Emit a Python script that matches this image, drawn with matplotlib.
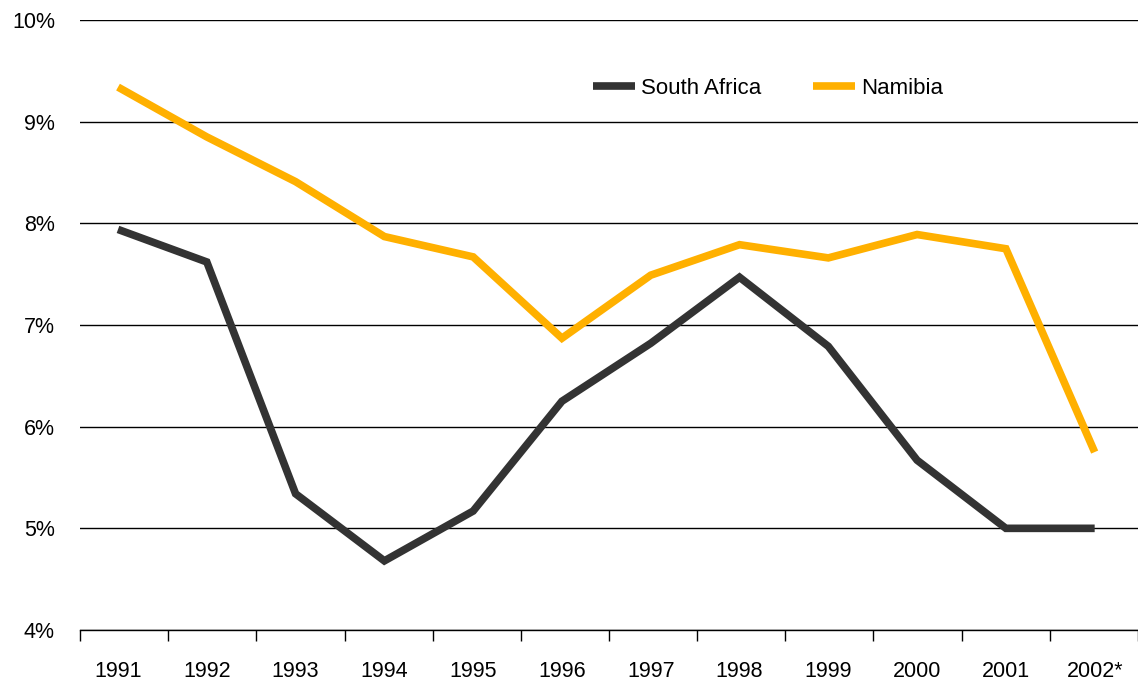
import matplotlib
matplotlib.use("Agg")
import matplotlib.pyplot as plt
import numpy as np

# data
years = ["1991", "1992", "1993", "1994", "1995", "1996",
         "1997", "1998", "1999", "2000", "2001", "2002*"]
south_africa = [7.94, 7.62, 5.34, 4.68, 5.17, 6.25, 6.82, 7.47, 6.79, 5.67, 5.00, 5.00]
namibia = [9.34, 8.85, 8.41, 7.87, 7.67, 6.87, 7.49, 7.79, 7.66, 7.89, 7.75, 5.75]

plt.rcParams['font.family'] = ['Liberation Sans', 'DejaVu Sans']

fig = plt.figure(figsize=(11.38, 6.81), dpi=100)
ax = fig.add_axes([80/1138, 1 - 630/681, 1 - 80/1138, 610/681])

x = np.arange(len(years))
ax.plot(x, south_africa, color="#333333", lw=5.5, solid_capstyle="butt",
        solid_joinstyle="miter", label="South Africa", zorder=3)
ax.plot(x, namibia, color="#FFB000", lw=5.5, solid_capstyle="butt",
        solid_joinstyle="miter", label="Namibia", zorder=3)

# points sit a little off the tick-cell centres in the original
x0 = -0.428
ax.set_xlim(x0, x0 + 11.912)
ax.set_ylim(4, 10)
ax.set_yticks(range(4, 11))
ax.set_yticklabels([f"{v}%" for v in range(4, 11)])
ax.yaxis.grid(True, color="black", lw=1)
ax.set_axisbelow(True)

ax.set_xticks(x)
ax.set_xticklabels(years)
ax.set_xticks(x0 + 0.993 * np.arange(13), minor=True)
ax.tick_params(axis="x", which="major", length=0, pad=22, labelsize=15.5)
ax.tick_params(axis="x", which="minor", length=8, width=1, direction="out")
ax.tick_params(axis="y", length=0, pad=18, labelsize=15.5)

for s in ["left", "right", "top"]:
    ax.spines[s].set_visible(False)
ax.spines["bottom"].set_linewidth(1)

ax.legend(loc="center left", bbox_to_anchor=(593/1138, 1 - 88/681),
          bbox_transform=fig.transFigure, ncol=2, frameon=False,
          fontsize=16, handlelength=1.9, handletextpad=0.25,
          columnspacing=2.35, borderpad=0, borderaxespad=0)

fig.savefig("out.png", dpi=100)
